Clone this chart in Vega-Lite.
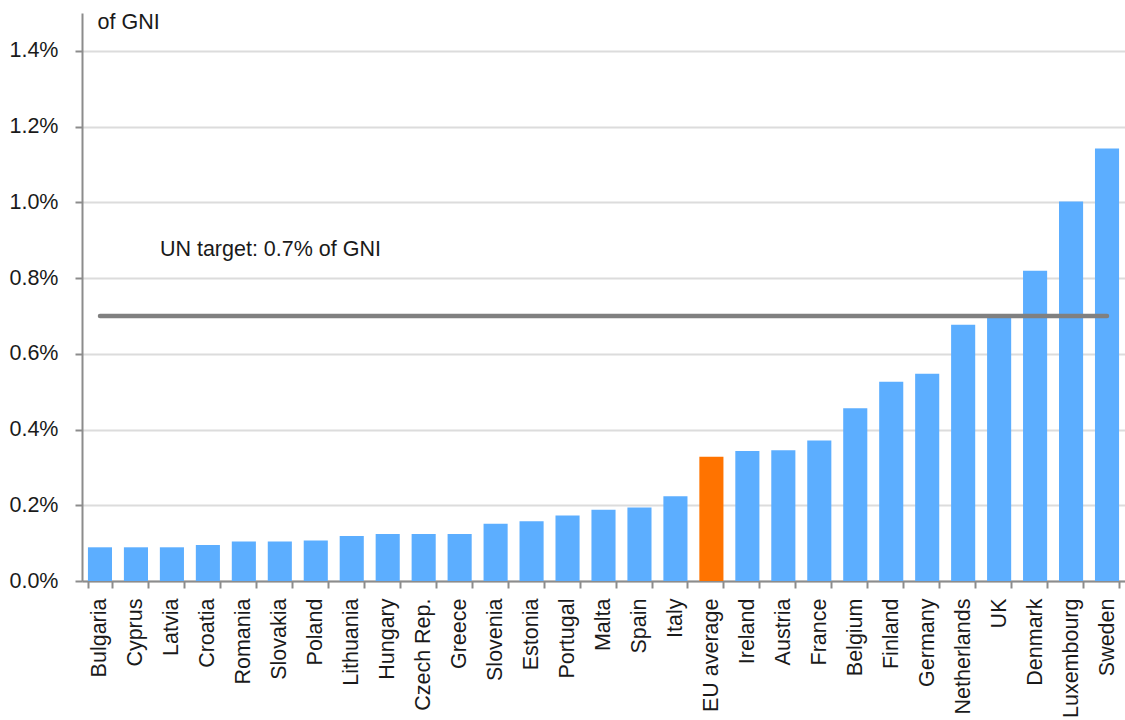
{
  "$schema": "https://vega.github.io/schema/vega-lite/v6.json",
  "autosize": {"type": "none"},
  "padding": {"left": 82, "top": 13, "right": 0, "bottom": 139},
  "width": 1043,
  "height": 568,
  "background": "white",
  "config": {
    "view": {"stroke": null},
    "font": "Liberation Sans",
    "axis": {
      "labelFont": "Liberation Sans",
      "titleFont": "Liberation Sans",
      "labelFontSize": 21.5,
      "labelColor": "#1a1a1a",
      "domainColor": "#8c8c8c",
      "domainWidth": 2,
      "tickColor": "#8c8c8c",
      "tickWidth": 2,
      "tickSize": 7
    }
  },
  "datasets": {
    "oda": [
      {"country": "Bulgaria", "share": 0.00089, "group": "country"},
      {"country": "Cyprus", "share": 0.00089, "group": "country"},
      {"country": "Latvia", "share": 0.00089, "group": "country"},
      {"country": "Croatia", "share": 0.00095, "group": "country"},
      {"country": "Romania", "share": 0.00104, "group": "country"},
      {"country": "Slovakia", "share": 0.00104, "group": "country"},
      {"country": "Poland", "share": 0.00107, "group": "country"},
      {"country": "Lithuania", "share": 0.00119, "group": "country"},
      {"country": "Hungary", "share": 0.00124, "group": "country"},
      {"country": "Czech Rep.", "share": 0.00124, "group": "country"},
      {"country": "Greece", "share": 0.00124, "group": "country"},
      {"country": "Slovenia", "share": 0.00151, "group": "country"},
      {"country": "Estonia", "share": 0.00158, "group": "country"},
      {"country": "Portugal", "share": 0.00173, "group": "country"},
      {"country": "Malta", "share": 0.00188, "group": "country"},
      {"country": "Spain", "share": 0.00194, "group": "country"},
      {"country": "Italy", "share": 0.00224, "group": "country"},
      {"country": "EU average", "share": 0.00328, "group": "average"},
      {"country": "Ireland", "share": 0.00343, "group": "country"},
      {"country": "Austria", "share": 0.00345, "group": "country"},
      {"country": "France", "share": 0.00371, "group": "country"},
      {"country": "Belgium", "share": 0.00456, "group": "country"},
      {"country": "Finland", "share": 0.00526, "group": "country"},
      {"country": "Germany", "share": 0.00547, "group": "country"},
      {"country": "Netherlands", "share": 0.00677, "group": "country"},
      {"country": "UK", "share": 0.00697, "group": "country"},
      {"country": "Denmark", "share": 0.00819, "group": "country"},
      {"country": "Luxembourg", "share": 0.01002, "group": "country"},
      {"country": "Sweden", "share": 0.01142, "group": "country"}
    ],
    "target": [
      {"from": "Bulgaria", "to": "Sweden", "level": 0.007, "label": "UN target: 0.7% of GNI", "labelAt": "Latvia", "labelLevel": 0.00875}
    ]
  },
  "layer": [
    {
      "data": {"name": "oda"},
      "mark": {"type": "bar"},
      "encoding": {
        "x": {
          "field": "country",
          "type": "nominal",
          "scale": {
            "domain": ["Bulgaria", "Cyprus", "Latvia", "Croatia", "Romania", "Slovakia", "Poland", "Lithuania", "Hungary", "Czech Rep.", "Greece", "Slovenia", "Estonia", "Portugal", "Malta", "Spain", "Italy", "EU average", "Ireland", "Austria", "France", "Belgium", "Finland", "Germany", "Netherlands", "UK", "Denmark", "Luxembourg", "Sweden"],
            "paddingInner": 0.33,
            "paddingOuter": 0.165
          },
          "axis": {
            "title": null,
            "labelAngle": -90,
            "labelAlign": "right",
            "labelBaseline": "middle",
            "labelPadding": 10,
            "tickBand": "extent",
            "grid": false
          }
        },
        "y": {
          "field": "share",
          "type": "quantitative",
          "scale": {"domain": [0, 0.015], "nice": false},
          "axis": {
            "values": [0, 0.002, 0.004, 0.006, 0.008, 0.01, 0.012, 0.014],
            "format": ".1%",
            "labelPadding": 17,
            "grid": true,
            "gridColor": "#dcdcdc",
            "gridWidth": 2,
            "title": "of GNI",
            "titleAngle": 0,
            "titleAlign": "left",
            "titleBaseline": "middle",
            "titleFontWeight": "normal",
            "titleFontSize": 21.5,
            "titleColor": "#1a1a1a",
            "titleX": 15,
            "titleY": 9
          }
        },
        "color": {
          "field": "group",
          "type": "nominal",
          "scale": {"domain": ["country", "average"], "range": ["#5caeff", "#ff7300"]},
          "legend": null
        }
      }
    },
    {
      "data": {"name": "target"},
      "mark": {"type": "rule", "color": "#808080", "strokeWidth": 4.5, "strokeCap": "round"},
      "encoding": {
        "x": {"field": "from", "type": "nominal"},
        "x2": {"field": "to"},
        "y": {"field": "level", "type": "quantitative"}
      }
    },
    {
      "data": {"name": "target"},
      "mark": {"type": "text", "align": "left", "baseline": "middle", "dx": -12, "fontSize": 21.5, "color": "#1a1a1a"},
      "encoding": {
        "x": {"field": "labelAt", "type": "nominal"},
        "y": {"field": "labelLevel", "type": "quantitative"},
        "text": {"field": "label"}
      }
    }
  ]
}
